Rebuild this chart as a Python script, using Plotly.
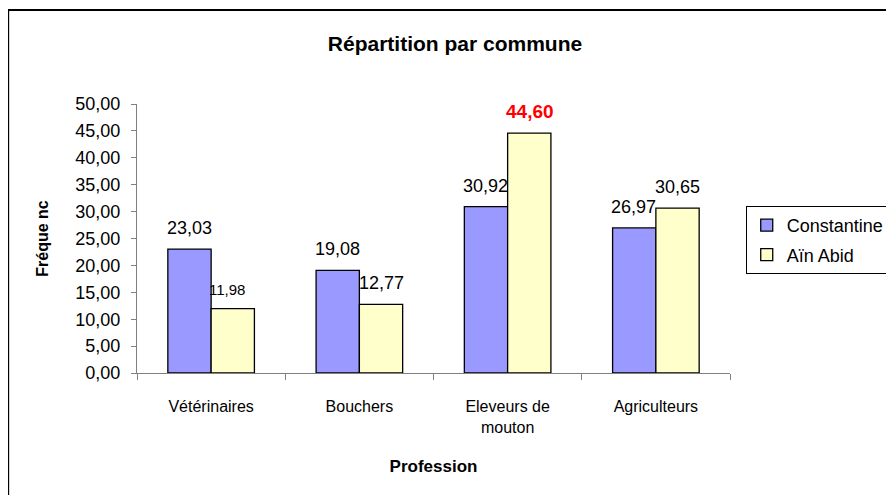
import plotly.graph_objects as go

categories = ["Vétérinaires", "Bouchers", "Eleveurs de<br>mouton", "Agriculteurs"]
constantine = [23.03, 19.08, 30.92, 26.97]
ain_abid = [11.98, 12.77, 44.60, 30.65]
series_names = ["Constantine", "Aïn Abid"]
y_ticks = [0, 5, 10, 15, 20, 25, 30, 35, 40, 45, 50]

FONT = "Liberation Sans, Arial, sans-serif"
OFF = 8  # page body margin

fig = go.Figure()
fig.add_trace(go.Bar(name=series_names[0], x=categories, y=constantine,
                     marker=dict(color="#9999FF", line=dict(color="#000000", width=1.3)),
                     legendgroup="a"))
fig.add_trace(go.Bar(name=series_names[1], x=categories, y=ain_abid,
                     marker=dict(color="#FFFFCC", line=dict(color="#000000", width=1.3)),
                     legendgroup="b"))

# data labels
max_val = max(ain_abid + constantine)
annotations = []
for vals, shift in ((constantine, -22), (ain_abid, 22)):
    for cat, v in zip(categories, vals):
        txt = f"{v:.2f}".replace(".", ",")
        is_max = v == max_val
        small = v < 12
        annotations.append(dict(
            x=cat, y=v, xref="x", yref="y", text=("<b>%s</b>" % txt) if is_max else txt,
            showarrow=False, xanchor="center", yanchor="bottom",
            xshift=shift - (6 if small else 0), yshift=9,
            font=dict(family=FONT, size=15 if small else (19 if is_max else 18),
                      color="#FF0000" if is_max else "#000000"),
        ))

L, T, B = 137 - OFF, 104 - OFF, 122 + OFF
W_PLOT, H_PLOT = 603, 269
R = 894 - L - W_PLOT


def px_x(p):
    return (p - 137) / W_PLOT


def px_y(p):
    return (373 - p) / H_PLOT


fig.update_layout(
    width=894, height=495,
    margin=dict(l=L, r=R, t=T, b=B),
    paper_bgcolor="white", plot_bgcolor="white",
    separators=",.",
    barmode="group", bargap=0.416, bargroupgap=0,
    font=dict(family=FONT, size=17, color="#000000"),
    title=dict(text="<b>Répartition par commune</b>", x=(455 - OFF) / 894, xanchor="center",
               y=1 - (44 - OFF) / 495, yanchor="middle", yref="container",
               font=dict(family=FONT, size=21, color="#000000")),
    showlegend=True,
    legend=dict(x=px_x(756), xanchor="left", y=px_y(206), yanchor="top",
                bordercolor="#000000", borderwidth=1, bgcolor="white",
                font=dict(family=FONT, size=18), tracegroupgap=3,
                traceorder="grouped"),
    annotations=annotations,
    shapes=[dict(type="rect", xref="paper", yref="paper",
                 x0=px_x(6), x1=px_x(940),
                 y0=px_y(530), y1=px_y(10),
                 line=dict(color="#000000", width=2), fillcolor="rgba(0,0,0,0)")],
)

fig.update_xaxes(
    showline=True, linecolor="#808080", linewidth=1.3,
    ticks="outside", tickson="boundaries", ticklen=6, tickcolor="#808080",
    tickfont=dict(family=FONT, size=16), ticklabelstandoff=19,
    showgrid=False, zeroline=False,
    title=dict(text="<b>Profession</b>", font=dict(family=FONT, size=17), standoff=24),
)
fig.update_yaxes(
    range=[0, 50], tickvals=y_ticks, tickformat=".2f",
    showline=True, linecolor="#808080", linewidth=1.3,
    ticks="outside", ticklen=5, tickcolor="#808080",
    tickfont=dict(family=FONT, size=18), ticklabelstandoff=7,
    showgrid=False, zeroline=False,
    title=dict(text="<b>Fréque nc</b>", font=dict(family=FONT, size=16), standoff=22),
)

fig.write_html("out.html")
